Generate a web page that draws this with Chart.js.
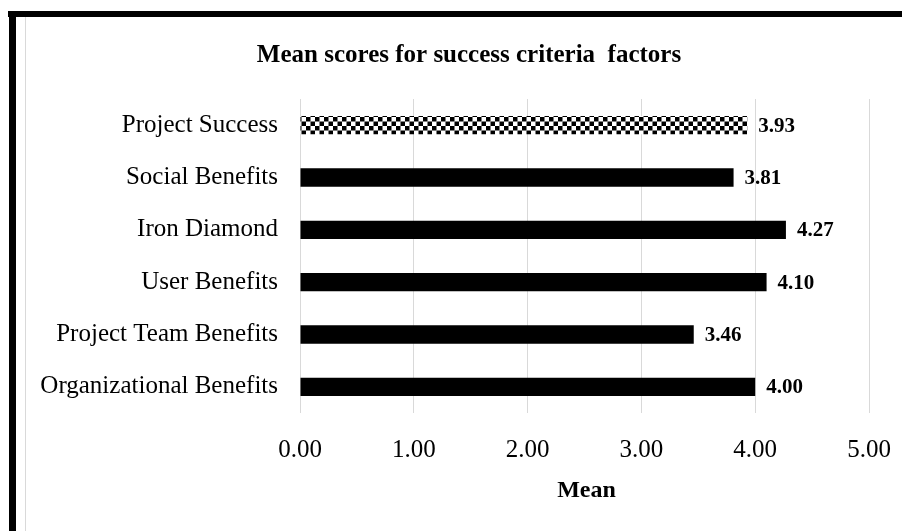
<!DOCTYPE html>
<html>
<head>
<meta charset="utf-8">
<script src="https://cdn.jsdelivr.net/npm/chart.js@4"></script>
<style>
    html, body { margin: 0; padding: 0; background: #fff; }
    #wrap { position: relative; width: 902px; height: 531px; overflow: hidden; }
    #frameTop { position: absolute; left: 8px; top: 11px; width: 894px; height: 6px; background: #000; }
    #frameLeft { position: absolute; left: 9px; top: 11px; width: 7px; height: 520px; background: #000; }
    #frameInner { position: absolute; left: 25px; top: 17px; width: 1px; height: 514px; background: #d9d9d9; }
    canvas { position: absolute; left: 0; top: 0; }
</style>
</head>
<body>
<div id="wrap">
    <canvas id="meanChart" width="902" height="531"></canvas>
    <div id="frameTop"></div>
    <div id="frameLeft"></div>
    <div id="frameInner"></div>
</div>
<script>
// Critères de succès et moyennes
const categories = ['Project Success', 'Social Benefits', 'Iron Diamond', 'User Benefits', 'Project Team Benefits', 'Organizational Benefits'];
const meanValues = [3.93, 3.81, 4.27, 4.10, 3.46, 4.00];
const tickValues = [0, 1, 2, 3, 4, 5];
const chartTitle = 'Mean scores for success criteria  factors';
const axisTitle = 'Mean';

const serif = '"Liberation Serif", "Times New Roman", serif';

// Motif damier pour la barre "Project Success"
function checkerPattern(ctx) {
    const tile = document.createElement('canvas');
    tile.width = 9;
    tile.height = 9;
    const t = tile.getContext('2d');
    t.fillStyle = '#fff';
    t.fillRect(0, 0, 9, 9);
    t.fillStyle = '#000';
    t.fillRect(0, 0, 4.5, 4.5);
    t.fillRect(4.5, 4.5, 4.5, 4.5);
    return ctx.createPattern(tile, 'repeat');
}

// Titre du graphique et titre de l'axe des x
const titles = {
    id: 'titles',
    afterDraw(chart) {
        const ctx = chart.ctx;
        const area = chart.chartArea;
        ctx.save();
        ctx.fillStyle = '#000';
        ctx.textAlign = 'center';
        ctx.textBaseline = 'middle';
        ctx.font = 'bold 25px ' + serif;
        ctx.fillText(chartTitle, 469, 56);
        ctx.font = 'bold 24px ' + serif;
        ctx.fillText(axisTitle, (area.left + area.right) / 2 + 2, 491);
        ctx.restore();
    }
};

// Étiquettes de valeur à droite des barres
const valueLabels = {
    id: 'valueLabels',
    afterDatasetsDraw(chart) {
        const ctx = chart.ctx;
        const meta = chart.getDatasetMeta(0);
        const xScale = chart.scales.x;
        ctx.save();
        ctx.font = 'bold 21px ' + serif;
        ctx.fillStyle = '#000';
        ctx.textAlign = 'left';
        ctx.textBaseline = 'middle';
        meta.data.forEach((bar, i) => {
            const v = chart.data.datasets[0].data[i];
            ctx.fillText(v.toFixed(2), xScale.getPixelForValue(v) + 11, bar.y + 1);
        });
        ctx.restore();
    }
};

document.addEventListener('DOMContentLoaded', () => {
    const canvas = document.getElementById('meanChart');
    const ctx = canvas.getContext('2d');
    const pattern = checkerPattern(ctx);

    new Chart(ctx, {
        type: 'bar',
        data: {
            labels: categories,
            datasets: [{
                label: 'Mean',
                data: meanValues,
                backgroundColor: meanValues.map((v, i) => i === 0 ? pattern : '#000'),
                borderWidth: 0,
                categoryPercentage: 1,
                barPercentage: 0.35
            }]
        },
        options: {
            indexAxis: 'y',
            responsive: false,
            animation: false,
            layout: {
                padding: { left: 0, right: 33, top: 99, bottom: 44 }
            },
            plugins: {
                legend: { display: false },
                tooltip: { enabled: false },
                title: { display: false }
            },
            scales: {
                x: {
                    min: 0,
                    max: 5,
                    afterBuildTicks: (scale) => {
                        scale.ticks = tickValues.map(v => ({ value: v }));
                    },
                    afterFit: (scale) => {
                        scale.paddingLeft = 0;
                        scale.paddingRight = 0;
                    },
                    grid: { color: '#d9d9d9', drawTicks: false },
                    border: { display: false },
                    ticks: {
                        color: '#000',
                        padding: 22,
                        font: { family: serif, size: 25 },
                        callback: (v) => Number(v).toFixed(2)
                    }
                },
                y: {
                    afterFit: (scale) => { scale.width = 300; },
                    grid: { display: false, drawTicks: false },
                    border: { display: false },
                    ticks: {
                        color: '#000',
                        padding: 22,
                        font: { family: serif, size: 25 }
                    }
                }
            }
        },
        plugins: [valueLabels, titles]
    });
});
</script>
</body>
</html>
